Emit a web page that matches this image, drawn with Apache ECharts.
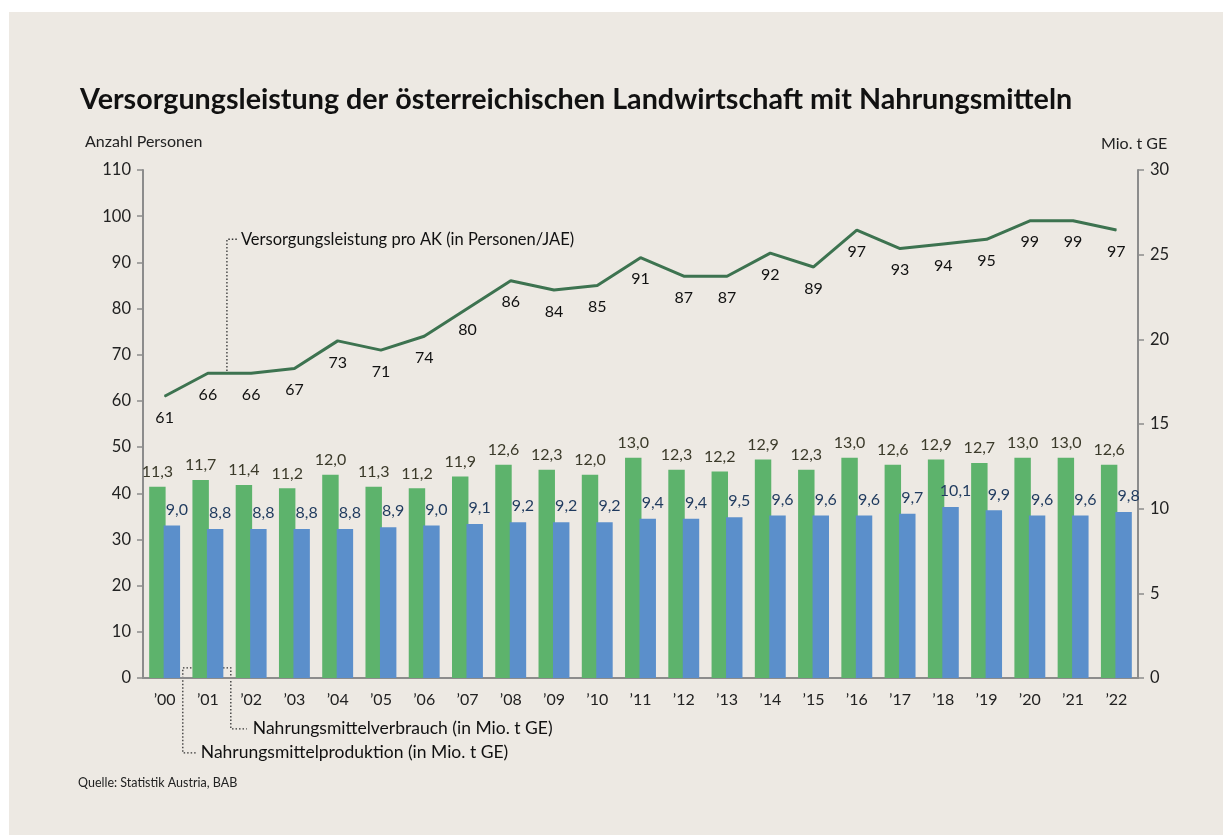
<!DOCTYPE html>
<html>
<head>
<meta charset="utf-8">
<script src="https://cdn.jsdelivr.net/npm/echarts@6/dist/echarts.min.js"></script>
<style>
  html, body { margin: 0; padding: 0; background: #ffffff; overflow: hidden; }
  #panel { position: absolute; left: 9px; top: 12px; width: 1214px; height: 823px; background: #ede9e3; }
  #chart { position: absolute; left: 0; top: 0; width: 1223px; height: 835px; }
</style>
</head>
<body>
<div id="panel"></div>
<div id="chart"></div>
<script>
// ---- data ----
const years = ["’00","’01","’02","’03","’04","’05","’06","’07","’08","’09","’10",
  "’11","’12","’13","’14","’15","’16","’17","’18","’19","’20","’21","’22"];

const produktion = [11.3,11.7,11.4,11.2,12.0,11.3,11.2,11.9,12.6,12.3,12.0,
  13.0,12.3,12.2,12.9,12.3,13.0,12.6,12.9,12.7,13.0,13.0,12.6];

const verbrauch = [9.0,8.8,8.8,8.8,8.8,8.9,9.0,9.1,9.2,9.2,9.2,
  9.4,9.4,9.5,9.6,9.6,9.6,9.7,10.1,9.9,9.6,9.6,9.8];

const versorgung = [61,66,66,67,73,71,74,80,86,84,85,
  91,87,87,92,89,97,93,94,95,99,99,97];

const leftTicks = [0,110,10];
const rightTicks = [0,30,5];

const FONT = "Lato";
const comma = v => v.toFixed(1).replace(".", ",");

// =====================
// CHART
// =====================
const chart = echarts.init(document.getElementById("chart"));

chart.setOption({
  backgroundColor: "transparent",
  textStyle: { fontFamily: FONT },
  animation: false,
  title: [
    {
      text: "Versorgungsleistung der österreichischen Landwirtschaft mit Nahrungsmitteln",
      left: 80, top: 85, padding: 0,
      textStyle: { fontFamily: FONT, fontSize: 28.7, fontWeight: "bold", color: "#111" }
    },
    {
      text: "Anzahl Personen",
      left: 85, top: 134, padding: 0,
      textStyle: { fontFamily: FONT, fontSize: 16, fontWeight: "normal", color: "#222" }
    },
    {
      text: "Mio. t GE",
      left: 1101, top: 136, padding: 0,
      textStyle: { fontFamily: FONT, fontSize: 16, fontWeight: "normal", color: "#222" }
    },
    {
      text: "Quelle: Statistik Austria, BAB",
      left: 78, top: 776, padding: 0,
      textStyle: { fontFamily: FONT, fontSize: 12.5, fontWeight: "normal", color: "#222" }
    }
  ],
  grid: { left: 143, right: 85, top: 170, bottom: 157, containLabel: false },
  xAxis: {
    type: "category",
    data: years,
    axisLine: { lineStyle: { color: "#8c8c8c", width: 2 } },
    axisTick: { show: false },
    axisLabel: { color: "#222", fontSize: 16, margin: 14, fontFamily: FONT }
  },
  yAxis: [
    {
      type: "value",
      min: leftTicks[0], max: leftTicks[1], interval: leftTicks[2],
      axisLine: { show: true, lineStyle: { color: "#8c8c8c", width: 2 } },
      axisTick: { show: true, length: 6, lineStyle: { color: "#8c8c8c", width: 1.5 } },
      splitLine: { show: false },
      axisLabel: { color: "#222", fontSize: 16.5, margin: 12, fontFamily: FONT }
    },
    {
      type: "value",
      min: rightTicks[0], max: rightTicks[1], interval: rightTicks[2],
      position: "right",
      axisLine: { show: true, lineStyle: { color: "#8c8c8c", width: 2 } },
      axisTick: { show: true, length: 6, lineStyle: { color: "#8c8c8c", width: 1.5 } },
      splitLine: { show: false },
      axisLabel: { color: "#222", fontSize: 16.5, margin: 12, fontFamily: FONT }
    }
  ],
  series: [
    {
      name: "Nahrungsmittelproduktion",
      type: "bar",
      yAxisIndex: 1,
      data: produktion,
      barWidth: "38%",
      barGap: "-12%",
      itemStyle: { color: "#5db36c" },
      label: {
        show: true, position: "top", distance: 7,
        formatter: p => comma(p.value),
        color: "#3b3a2a", fontSize: 16, fontFamily: FONT
      },
      z: 2
    },
    {
      name: "Nahrungsmittelverbrauch",
      type: "bar",
      yAxisIndex: 1,
      data: verbrauch,
      barWidth: "38%",
      itemStyle: { color: "#5b8fcb" },
      label: {
        show: true, position: "top", distance: 8, offset: [5, 0],
        formatter: p => comma(p.value),
        color: "#1f3a5e", fontSize: 16, fontFamily: FONT
      },
      z: 3
    },
    {
      name: "Versorgungsleistung",
      type: "line",
      yAxisIndex: 0,
      data: versorgung,
      symbol: "circle",
      symbolSize: 1,
      showSymbol: true,
      itemStyle: { color: "#3d7350" },
      lineStyle: { color: "#3d7350", width: 3 },
      label: {
        show: true, position: "bottom", distance: 13,
        color: "#111", fontSize: 16, fontFamily: FONT
      },
      z: 5
    }
  ]
});

// =====================
// ANNOTATIONS (dotted leaders)
// =====================
function annotate() {
  const cat = i => chart.convertToPixel({ xAxisIndex: 0 }, i);
  const yl = v => chart.convertToPixel({ yAxisIndex: 0 }, v);
  const yr = v => chart.convertToPixel({ yAxisIndex: 1 }, v);
  const step = cat(1) - cat(0);
  const dot = { stroke: "#333", lineWidth: 1.3, lineDash: [1.5, 2], fill: null };
  const txt = (x, y, s, size) => ({
    type: "text", x: x, y: y,
    style: { text: s, fill: "#111", font: size + "px " + FONT, verticalAlign: "middle", align: "left" }
  });

  // line leader
  const lx = cat(1) + step * 0.44;
  const ly0 = yl(66.5);
  const ly1 = yl(95);
  // production leader
  const px0 = cat(1) - step * 0.38;
  const px1 = cat(0) + step * 0.42;
  const y0 = yr(0.6);
  const py = y0 + 85;
  // consumption leader
  const cx0 = cat(1) + step * 0.35;
  const cx1 = cat(1) + step * 0.53;
  const cy = y0 + 61;

  chart.setOption({
    graphic: [
      { type: "polyline", shape: { points: [[lx, ly0], [lx, ly1], [lx + 10, ly1]] }, style: dot, silent: true },
      txt(lx + 14, ly1, "Versorgungsleistung pro AK (in Personen/JAE)", 16.5),
      { type: "polyline", shape: { points: [[px0, y0], [px1, y0], [px1, py], [px1 + 14, py]] }, style: dot, silent: true },
      txt(px1 + 18, py, "Nahrungsmittelproduktion (in Mio. t GE)", 17.5),
      { type: "polyline", shape: { points: [[cx0, y0], [cx1, y0], [cx1, cy], [cx1 + 16, cy]] }, style: dot, silent: true },
      txt(cx1 + 22, cy, "Nahrungsmittelverbrauch (in Mio. t GE)", 17.5)
    ]
  });
}
annotate();
</script>
</body>
</html>
